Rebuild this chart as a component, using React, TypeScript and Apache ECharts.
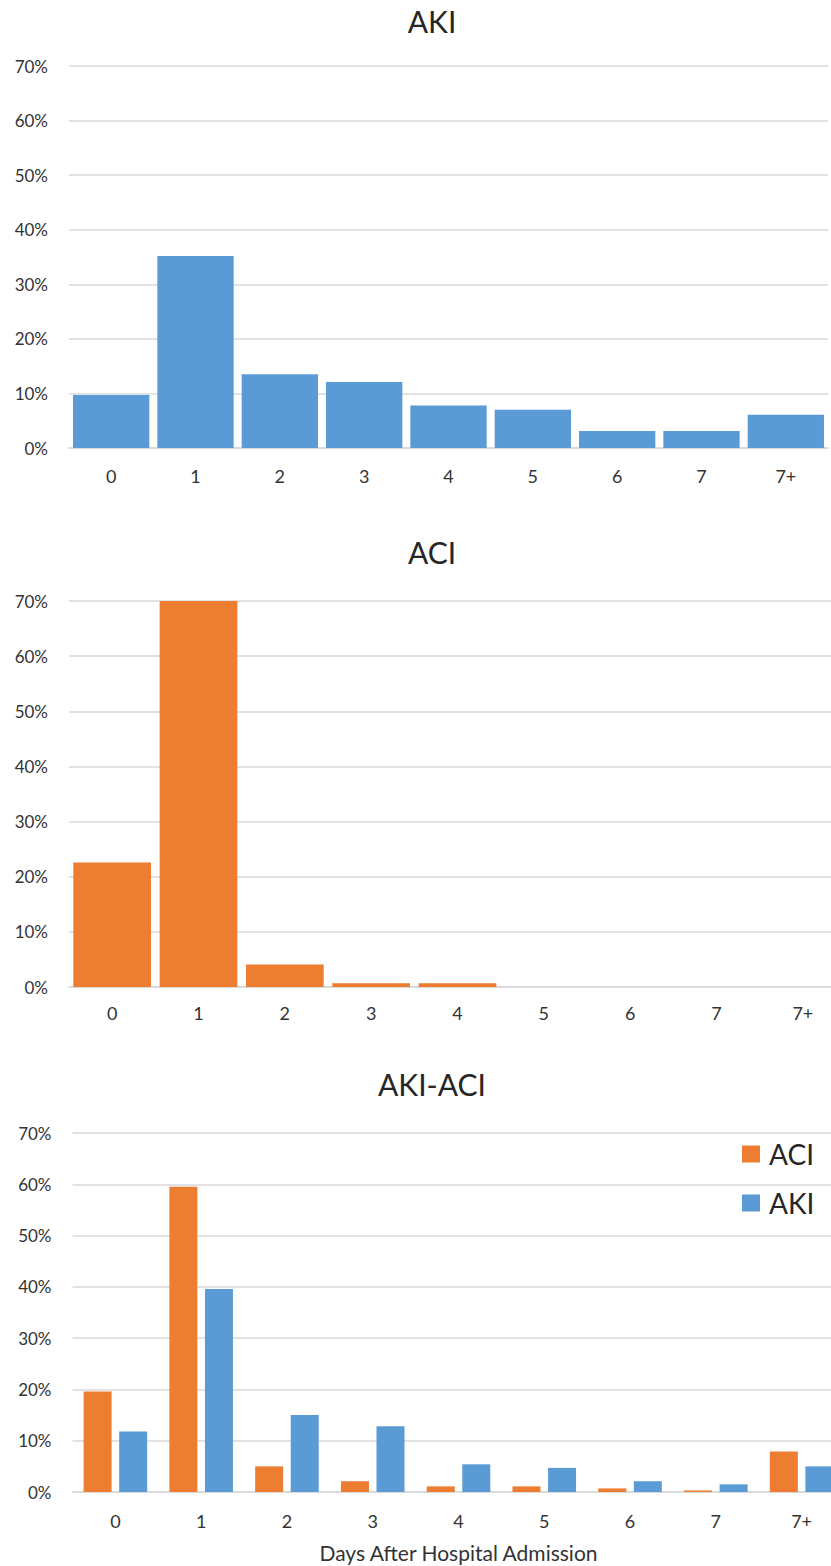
import React, { useEffect, useRef } from "react";
import * as echarts from "echarts";

const categories = ["0", "1", "2", "3", "4", "5", "6", "7", "7+"];
const yMax = 70;
const yStep = 10;
const akiPanel = [9.7, 35.2, 13.5, 12.1, 7.8, 7.0, 3.1, 3.1, 6.1];
const aciPanel = [22.6, 70, 4.1, 0.7, 0.7, 0, 0, 0, 0];
const aciBoth = [19.6, 59.5, 5.0, 2.1, 1.1, 1.1, 0.7, 0.3, 7.9];
const akiBoth = [11.8, 39.6, 15.0, 12.8, 5.4, 4.7, 2.1, 1.5, 5.0];
const panelTitles = ["AKI", "ACI", "AKI-ACI"];
const xAxisTitle = "Days After Hospital Admission";
const legendNames = ["ACI", "AKI"];

const BLUE = "#5B9BD5";
const ORANGE = "#ED7D31";
const TEXT = "#333333";
const GRID = "#d9d9d9";
const FONT = 'Lato, "Open Sans", "Noto Sans", sans-serif';

export default function App() {
  const ref = useRef<HTMLDivElement>(null);
  useEffect(() => {
    document.body.style.margin = "0";
    if (!ref.current) return;
    const chart = echarts.init(ref.current, undefined, { renderer: "svg" });

    const grids = [
      { left: 69, top: 66, width: 759, height: 382 },
      { left: 69, top: 601, width: 777, height: 386 },
      { left: 72.5, top: 1133, width: 772, height: 359 },
    ];
    const labelMargins = [19, 17, 20];

    const yAxis = grids.map((_, i) => ({
      type: "value",
      gridIndex: i,
      min: 0,
      max: yMax,
      interval: yStep,
      axisLine: { show: false },
      axisTick: { show: false },
      axisLabel: {
        formatter: "{value}%",
        fontSize: 17,
        color: TEXT,
        margin: 21,
        fontFamily: FONT,
      },
      splitLine: { lineStyle: { color: GRID, width: 1.5 } },
    }));

    const xAxis = grids.map((_, i) => ({
      type: "category",
      gridIndex: i,
      data: categories,
      axisTick: { show: false },
      axisLine: { lineStyle: { color: GRID, width: 1.5 } },
      axisLabel: {
        fontSize: 18,
        color: TEXT,
        margin: labelMargins[i],
        fontFamily: FONT,
      },
      ...(i === 2
        ? {
            name: xAxisTitle,
            nameLocation: "middle",
            nameGap: 50,
            nameTextStyle: { fontSize: 21, color: TEXT, fontFamily: FONT },
          }
        : {}),
    }));

    const titleY = [21, 552, 1084];

    chart.setOption({
      animation: false,
      textStyle: { fontFamily: FONT },
      grid: grids.map((g) => ({ ...g, containLabel: false, outerBoundsMode: "none" })),
      xAxis,
      yAxis,
      legend: {
        data: legendNames,
        orient: "vertical",
        left: 742,
        top: 1140,
        padding: 0,
        itemWidth: 18,
        itemHeight: 17,
        itemGap: 21,
        icon: "rect",
        selectedMode: false,
        textStyle: {
          fontSize: 28,
          lineHeight: 28,
          color: "#262626",
          fontFamily: FONT,
          padding: [0, 0, 0, 4],
        },
      },
      graphic: panelTitles.map((t, i) => ({
        type: "text",
        x: 432,
        y: titleY[i],
        style: {
          text: t,
          fontSize: 30,
          fontFamily: FONT,
          fill: "#262626",
          align: "center",
          verticalAlign: "middle",
        },
      })),
      series: [
        {
          type: "bar",
          name: "AKI",
          xAxisIndex: 0,
          yAxisIndex: 0,
          data: akiPanel,
          itemStyle: { color: BLUE },
          barCategoryGap: "9.5%",
        },
        {
          type: "bar",
          name: "ACI",
          xAxisIndex: 1,
          yAxisIndex: 1,
          data: aciPanel,
          itemStyle: { color: ORANGE },
          barCategoryGap: "10%",
        },
        {
          type: "bar",
          name: "ACI",
          xAxisIndex: 2,
          yAxisIndex: 2,
          data: aciBoth,
          itemStyle: { color: ORANGE },
          barWidth: 28,
          barGap: "27%",
        },
        {
          type: "bar",
          name: "AKI",
          xAxisIndex: 2,
          yAxisIndex: 2,
          data: akiBoth,
          itemStyle: { color: BLUE },
          barWidth: 28,
          barGap: "27%",
        },
      ],
    });
    return () => chart.dispose();
  }, []);
  return <div ref={ref} style={{ width: 831, height: 1566 }} />;
}
